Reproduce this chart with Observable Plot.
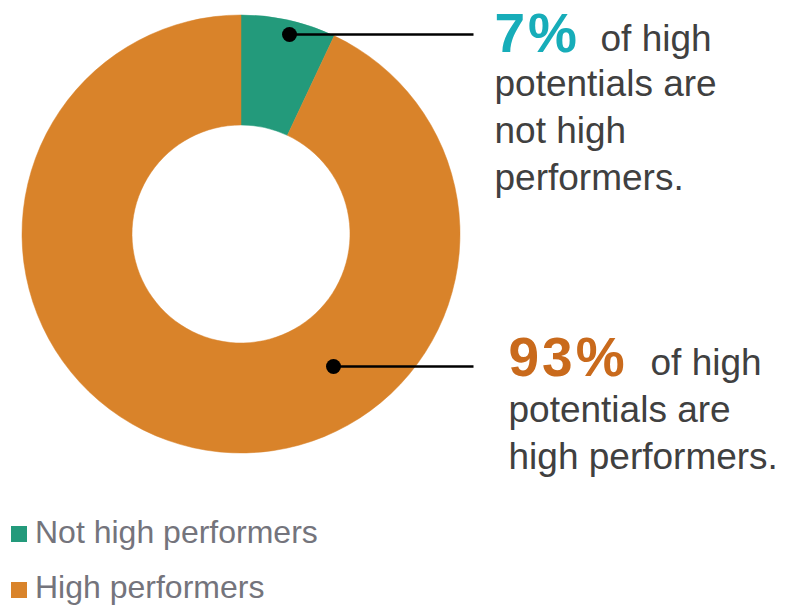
<!DOCTYPE html>
<html>
<head>
<meta charset="utf-8">
<script src="https://cdn.jsdelivr.net/npm/d3@7"></script>
<script src="https://cdn.jsdelivr.net/npm/@observablehq/plot@0.6"></script>
<style>
  html, body { margin: 0; padding: 0; background: #fff; }
  body { width: 793px; height: 606px; position: relative; overflow: hidden; font-family: "Liberation Sans", Arial, sans-serif; }
  #chart svg { display: block; }
  #chart g[font-size="55"] text { letter-spacing: 3px; }
  .sw { position: absolute; width: 16px; height: 16px; }
  .lg { position: absolute; font-size: 32px; line-height: 1; color: #74747c; white-space: nowrap; }
</style>
</head>
<body>
<div id="chart"></div>
<div id="legend"></div>
<script>
// ---- data ----
const categories = ["Not high performers", "High performers"];
const values = [7, 93];
const sliceColors = ["#239a7b", "#d9832a"];
const pctLabels = ["7%", "93%"];
const pctColors = ["#17adb9", "#c96a1c"];
const leadTexts = ["of high", "of high"];
const restTexts = ["potentials are\nnot high\nperformers.", "potentials are\nhigh performers."];

// ---- layout (pixel space) ----
const W = 793, H = 490;
const center = [241, 234];
const rOuter = 219, rInner = 109;
const anchors = [[289, 34], [333, 366]];      // leader dots
const leaderEndX = 473;
const pctPos = [[494, 51], [508, 375]];
const leadPos = [[600, 50], [650, 374]];
const restPos = [[494, 189], [508, 468]];

const table = categories.map((c, i) => ({category: c, value: values[i], color: sliceColors[i]}));
const notes = pctLabels.map((p, i) => ({
  pct: p, pctColor: pctColors[i], lead: leadTexts[i], rest: restTexts[i],
  ax: anchors[i][0], ay: anchors[i][1], ex: leaderEndX,
  px: pctPos[i][0], py: pctPos[i][1],
  lx: leadPos[i][0], ly: leadPos[i][1],
  rx: restPos[i][0], ry: restPos[i][1]
}));

function donut(index, scales) {
  const cx = scales.x(center[0]), cy = scales.y(center[1]);
  const k = scales.x(1) - scales.x(0);
  const arcs = d3.pie().sort(null).value(d => d.value)(table);
  const arc = d3.arc().innerRadius(rInner * k).outerRadius(rOuter * k);
  const g = d3.create("svg:g").attr("transform", `translate(${cx},${cy})`);
  g.selectAll("path").data(arcs).join("path")
    .attr("d", arc)
    .attr("fill", d => d.data.color)
    .attr("stroke", d => d.data.color)
    .attr("stroke-width", 0.5);
  return g.node();
}

const chart = Plot.plot({
  width: W, height: H,
  margin: 0,
  x: {domain: [0, W], range: [0, W], axis: null},
  y: {domain: [0, H], range: [0, H], axis: null},
  style: {fontFamily: "'Liberation Sans', Arial, sans-serif", background: "#fff"},
  marks: [
    donut,
    Plot.link(notes, {x1: "ax", y1: "ay", x2: "ex", y2: "ay", stroke: "#000", strokeWidth: 2.5}),
    Plot.dot(notes, {x: "ax", y: "ay", r: 7.5, fill: "#000"}),
    Plot.text(notes, {x: "px", y: "py", text: "pct", fill: "pctColor", textAnchor: "start", lineAnchor: "bottom", fontSize: 55, fontWeight: 900}),
    Plot.text(notes, {x: "lx", y: "ly", text: "lead", fill: "#404040", textAnchor: "start", lineAnchor: "bottom", fontSize: 37}),
    Plot.text(notes, {x: "rx", y: "ry", text: "rest", fill: "#404040", textAnchor: "start", lineAnchor: "bottom", fontSize: 37, lineHeight: 1.257})
  ]
});
document.getElementById("chart").appendChild(chart);

// ---- legend ----
const legend = document.getElementById("legend");
const legendTop = [526, 582];
const legendTextTop = [516, 571];
categories.forEach((c, i) => {
  const sw = document.createElement("div");
  sw.className = "sw";
  sw.style.left = "11px";
  sw.style.top = legendTop[i] + "px";
  sw.style.background = sliceColors[i];
  legend.appendChild(sw);
  const t = document.createElement("div");
  t.className = "lg";
  t.style.left = "35px";
  t.style.top = legendTextTop[i] + "px";
  t.textContent = c;
  legend.appendChild(t);
});
</script>
</body>
</html>
